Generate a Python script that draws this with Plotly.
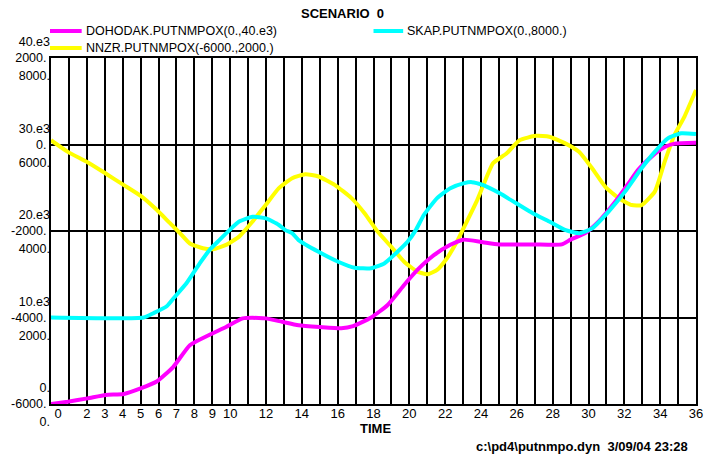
import plotly.graph_objects as go

# ---- data ----
dohodak_t = [0, 0.94, 2.04, 3.05, 4.07, 5.0, 5.9, 6.83, 7.75, 8.85, 9.77, 10.7, 11.6, 12.0, 12.9,
             13.82, 15.0, 16.2, 16.86, 17.87, 18.79, 19.71, 20.45, 21.37, 22.29, 23.02, 24.1, 25.0,
             26.0, 27.0, 28.5, 29.0, 29.84, 30.57, 31.5, 32.23, 32.78, 33.52, 34.25, 34.8, 36.0]
dohodak_v = [0, 270, 650, 1040, 1160, 1800, 2600, 4300, 6800, 8000, 8900, 9900, 9950, 9900, 9500,
             9100, 8900, 8750, 9000, 10000, 11450, 13760, 15500, 17200, 18400, 19000, 18700, 18450,
             18450, 18450, 18450, 19000, 19800, 21100, 23400, 25500, 27100, 28600, 29700, 30100, 30200]

skap_t = [0, 5.17, 5.72, 6.46, 6.83, 7.56, 8.3, 8.85, 9.4, 9.96, 10.5, 11.25, 12.0, 12.72, 13.08,
          13.46, 13.82, 14.93, 16.03, 16.95, 17.87, 18.6, 19.34, 19.9, 20.36, 20.81, 21.55, 22.29,
          23.02, 23.48, 24.13, 25.05, 25.97, 26.89, 27.81, 28.73, 29.47, 30.2, 31.12, 32.04, 32.96,
          33.7, 34.43, 35.17, 36.0]
skap_v = [2000, 2000, 2100, 2260, 2440, 2790, 3250, 3560, 3790, 4020, 4220, 4330, 4290, 4140, 4020,
          3950, 3790, 3520, 3290, 3150, 3140, 3250, 3520, 3750, 4020, 4370, 4760, 4990,
          5100, 5130, 5060, 4870, 4640, 4410, 4220, 4020, 3950, 4060, 4450, 4910, 5450,
          5830, 6140, 6260, 6240]

nnzr_t = [0, 0.94, 2.04, 3.05, 4.07, 5.08, 5.9, 6.64, 7.2, 7.75, 8.48, 9.04, 9.77, 10.5, 11.25,
          11.98, 12.72, 13.46, 14.19, 14.93, 15.85, 16.77, 17.5, 18.24, 18.98, 19.71, 20.45, 21.0,
          21.55, 22.1, 22.65, 23.02, 23.75, 24.13, 24.68, 25.42, 26.15, 27.07, 27.81, 28.73, 29.47,
          30.2, 30.94, 31.68, 32.41, 32.96, 33.7, 34.25, 34.8, 35.35, 36.0]
nnzr_v = [100, -170, -410, -670, -940, -1210, -1510, -1820, -2050, -2290, -2400, -2420, -2320, -2130, -1780,
          -1400, -1010, -780, -690, -740, -940, -1240, -1590, -2020, -2360, -2710, -2940, -3000,
          -2900, -2630, -2250, -1940, -1320, -940, -430, -210, 100, 200, 180, 20, -170,
          -550, -980, -1240, -1400, -1400, -1090, -400, 220, 640, 1260]

x_tickvals = list(range(0, 37))
x_ticklabels = ["\u2007\u20070", "", "2", "3", "4", "5", "6", "7", "8", "9", "10", "", "12", "", "14", "",
                "16", "", "18", "", "20", "", "22", "", "24", "", "26", "", "28", "", "30", "",
                "32", "", "34", "", "36"]

nnzr_ticks = [-6000, -4000, -2000, 0, 2000]
nnzr_labels = ["-6000.", "-4000.", "-2000.", "0.", "2000."]
dohodak_ticks = [0, 10000, 20000, 30000, 40000]
dohodak_labels = ["0.", "10.e3", "20.e3", "30.e3", "40.e3"]
skap_ticks = [0, 2000, 4000, 6000, 8000]
skap_labels = ["0.", "2000.", "4000.", "6000.", "8000."]

names = ["DOHODAK.PUTNMPOX(0.,40.e3)", "SKAP.PUTNMPOX(0.,8000.)", "NNZR.PUTNMPOX(-6000.,2000.)"]
colors = ["#FF00FF", "#00FFFF", "#FFFF00"]

FONT = "Liberation Sans, Arial, sans-serif"

fig = go.Figure()
fig.add_trace(go.Scatter(x=dohodak_t, y=dohodak_v, yaxis="y2", mode="lines",
                         line=dict(color=colors[0], width=4, shape="spline", smoothing=0.5),
                         name=names[0]))
fig.add_trace(go.Scatter(x=nnzr_t, y=nnzr_v, yaxis="y", mode="lines",
                         line=dict(color=colors[2], width=4, shape="spline", smoothing=0.5),
                         name=names[2]))
fig.add_trace(go.Scatter(x=skap_t, y=skap_v, yaxis="y3", mode="lines",
                         line=dict(color=colors[1], width=4, shape="spline", smoothing=0.5),
                         name=names[1]))

tickfont = dict(family=FONT, size=12.5, color="black")

fig.update_layout(
    width=708, height=459,
    margin=dict(l=51, r=5, t=58, b=55),
    paper_bgcolor="white", plot_bgcolor="white",
    showlegend=False,
    font=dict(family=FONT, color="black"),
    xaxis=dict(range=[0, 36], tickvals=x_tickvals, ticktext=x_ticklabels,
               showgrid=True, gridcolor="black", gridwidth=2, zeroline=False,
               showline=True, mirror=True, linecolor="black", linewidth=2,
               ticks="", ticklabeloverflow="allow", ticklabelstandoff=-4,
               tickfont=dict(family=FONT, size=13, color="black")),
    yaxis=dict(range=[-6000, 2000], tickvals=nnzr_ticks, ticktext=nnzr_labels,
               showgrid=True, gridcolor="black", gridwidth=2, zeroline=False,
               showline=True, mirror=True, linecolor="black", linewidth=2,
               ticks="", tickfont=tickfont),
    yaxis2=dict(range=[0, 40000], tickvals=dohodak_ticks, ticktext=dohodak_labels,
                overlaying="y", side="left", anchor="x", showgrid=False, zeroline=False,
                showline=False, ticks="", tickfont=tickfont, ticklabelshift=-16),
    yaxis3=dict(range=[0, 8000], tickvals=skap_ticks, ticktext=skap_labels,
                overlaying="y", side="left", anchor="x", showgrid=False, zeroline=False,
                showline=False, ticks="", tickfont=tickfont, ticklabelshift=18),
)

def px_x(p):
    return (p - 51) / 652.0

def px_y(p):
    return (404 - p) / 346.0

# legend swatches
legend_items = [(50, 82, 31, 84, 0), (377, 407, 31, 409, 1), (50, 82, 48, 84, 2)]
for x0, x1, yy, xt, i in legend_items:
    fig.add_shape(type="line", xref="paper", yref="paper",
                  x0=px_x(x0), x1=px_x(x1), y0=px_y(yy), y1=px_y(yy),
                  line=dict(color=colors[i], width=4))
    fig.add_annotation(text=names[i], xref="paper", yref="paper", x=px_x(xt), y=px_y(yy),
                       xanchor="left", yanchor="middle", showarrow=False,
                       font=dict(family=FONT, size=12.5, color="black"))

fig.add_annotation(text="<b>SCENARIO  0</b>", xref="paper", yref="paper",
                   x=px_x(346), y=px_y(13), xanchor="center", yanchor="middle",
                   showarrow=False, font=dict(family=FONT, size=13, color="black"))
fig.add_annotation(text="<b>TIME</b>", xref="paper", yref="paper",
                   x=px_x(379), y=px_y(428), xanchor="center", yanchor="middle",
                   showarrow=False, font=dict(family=FONT, size=13, color="black"))
fig.add_annotation(text="<b>c:\\pd4\\putnmpo.dyn  3/09/04 23:28</b>", xref="paper", yref="paper",
                   x=px_x(697), y=px_y(446), xanchor="right", yanchor="middle",
                   showarrow=False, font=dict(family=FONT, size=13, color="black"))

fig.write_html("out.html", config={"displayModeBar": False},
               post_script="document.body.style.margin='0px';")
